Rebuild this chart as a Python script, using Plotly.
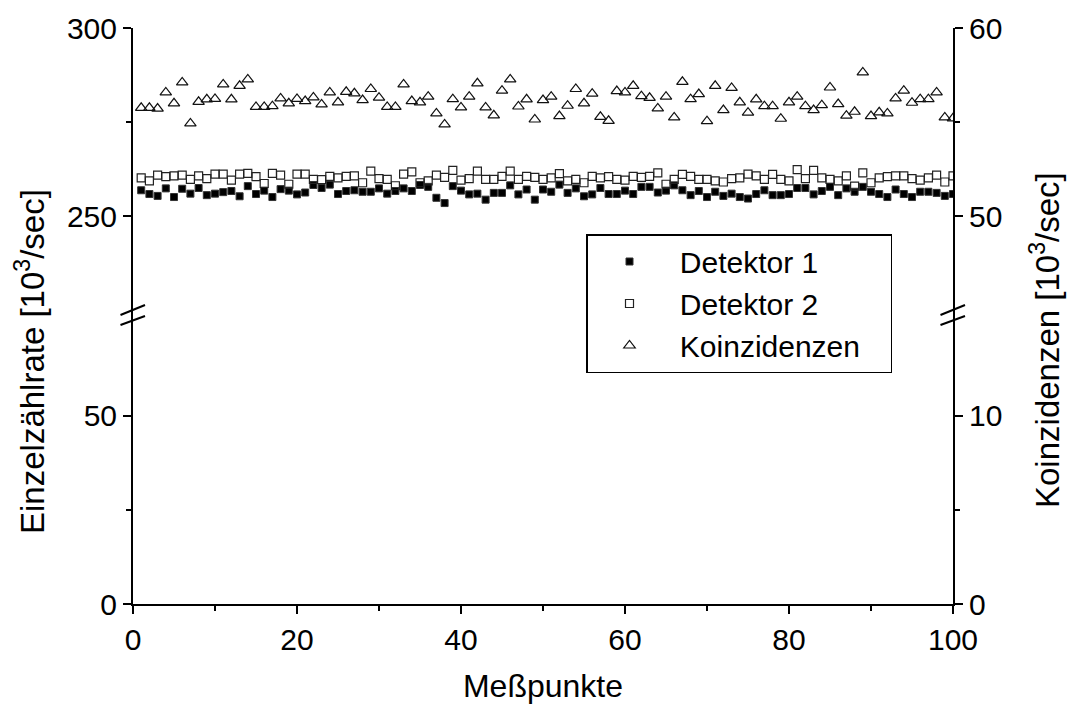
import plotly.graph_objects as go

x_points = list(range(1, 101))

detektor1 = [
    256.9, 255.9, 255.4, 257.4, 255.1, 257.3, 256.0, 257.5, 255.6, 256.0,
    256.4, 256.7, 255.3, 258.0, 255.9, 256.8, 255.1, 257.2, 256.8, 255.8,
    256.3, 258.3, 257.5, 258.4, 255.9, 256.7, 256.9, 256.5, 256.5, 257.4,
    256.0, 256.7, 257.4, 256.7, 258.3, 257.8, 254.9, 253.5, 258.0, 256.8,
    255.8, 256.0, 254.4, 256.2, 256.2, 258.2, 255.8, 257.1, 254.4, 257.1,
    256.5, 258.4, 256.2, 257.4, 255.3, 255.8, 257.5, 255.9, 255.9, 256.8,
    255.9, 257.8, 257.8, 256.3, 256.8, 258.2, 256.9, 255.6, 256.7, 255.1,
    256.5, 255.4, 256.0, 255.1, 254.7, 255.9, 256.9, 255.6, 255.6, 255.9,
    257.5, 257.5, 255.8, 256.7, 257.8, 255.6, 257.4, 256.5, 257.8, 256.5,
    255.9, 255.1, 257.1, 255.9, 255.1, 256.5, 256.5, 256.2, 255.4, 255.9,
]

detektor2 = [
    260.2, 259.4, 260.9, 260.5, 260.7, 260.9, 259.8, 260.7, 260.0, 261.2,
    261.2, 259.6, 261.2, 261.4, 260.5, 258.7, 261.4, 260.9, 258.5, 261.2,
    261.2, 259.8, 259.7, 260.6, 260.2, 260.6, 260.7, 258.9, 262.0, 260.0,
    259.8, 258.1, 261.2, 261.8, 258.9, 259.4, 260.9, 260.3, 262.2, 259.6,
    260.0, 262.0, 259.8, 259.8, 260.6, 262.0, 259.8, 260.6, 260.3, 259.8,
    260.2, 261.3, 259.4, 259.8, 258.9, 260.6, 260.2, 260.5, 259.8, 259.6,
    260.6, 260.3, 260.6, 261.5, 258.5, 259.8, 261.1, 260.6, 259.8, 259.8,
    259.4, 259.1, 260.0, 260.2, 261.2, 260.7, 259.8, 261.1, 259.8, 259.4,
    262.4, 260.0, 262.2, 260.2, 259.8, 259.4, 260.7, 258.0, 261.5, 258.9,
    260.2, 260.5, 260.7, 260.7, 260.0, 259.6, 260.2, 260.9, 259.1, 260.7,
]

koinzidenzen = [
    55.76, 55.76, 55.72, 56.58, 56.00, 57.11, 54.93, 56.08, 56.21, 56.23,
    57.00, 56.21, 56.93, 57.27, 55.81, 55.81, 55.85, 56.26, 56.00, 56.23,
    56.12, 56.31, 55.94, 56.58, 56.05, 56.61, 56.53, 56.17, 56.76, 56.30,
    55.81, 55.81, 57.00, 56.12, 56.05, 56.35, 55.46, 54.88, 56.22, 55.78,
    56.35, 57.06, 55.78, 55.36, 56.67, 57.27, 55.83, 56.21, 55.14, 56.17,
    56.35, 55.32, 55.87, 56.76, 56.00, 56.51, 55.28, 55.07, 56.65, 56.58,
    56.93, 56.38, 56.29, 55.73, 56.35, 55.25, 57.14, 56.22, 56.49, 55.05,
    56.93, 55.64, 56.82, 56.05, 55.50, 56.21, 55.85, 55.85, 55.18, 56.05,
    56.35, 55.85, 55.64, 55.90, 56.84, 55.96, 55.34, 55.55, 57.64, 55.32,
    55.52, 55.46, 56.26, 56.67, 56.03, 56.22, 56.22, 56.58, 55.25, 55.20,
]

series_names = ["Detektor 1", "Detektor 2", "Koinzidenzen"]
x_title = "Meßpunkte"
y_left_title = "Einzelzählrate [10<sup>3</sup>/sec]"
y_right_title = "Koinzidenzen [10<sup>3</sup>/sec]"

left_lower_ticks = [0, 50]
left_upper_ticks = [250, 300]
right_lower_ticks = [0, 10]
right_upper_ticks = [50, 60]

FONT = "Liberation Sans, Arial, sans-serif"
TICKFONT = dict(family=FONT, size=30, color="black")
NB = "\u00a0"

fig = go.Figure()

# empty traces so the lower axes exist
fig.add_trace(go.Scatter(x=[], y=[], yaxis="y", showlegend=False))
fig.add_trace(go.Scatter(x=[], y=[], yaxis="y2", showlegend=False))

legend_pad = NB * 3
fig.add_trace(go.Scatter(
    x=x_points, y=detektor1, mode="markers", name=NB + series_names[0], yaxis="y3",
    marker=dict(symbol="square", size=7, color="black", line=dict(color="#333", width=1)),
))
fig.add_trace(go.Scatter(
    x=x_points, y=detektor2, mode="markers", name=NB + series_names[1], yaxis="y3",
    marker=dict(symbol="square-open", size=8, color="#222", line=dict(width=1.2)),
))
fig.add_trace(go.Scatter(
    x=x_points, y=koinzidenzen, mode="markers", name=NB + series_names[2] + legend_pad,
    yaxis="y4",
    marker=dict(symbol="triangle-up-open", size=10, color="#111", line=dict(width=1.2)),
))

split = 0.5
common_y = dict(showline=True, linecolor="black", linewidth=2, ticks="outside",
                ticklen=8, tickwidth=2, tickcolor="black", showgrid=False,
                zeroline=False, tickfont=TICKFONT, anchor="x", automargin=False)

fig.update_layout(
    width=1069, height=704,
    margin=dict(l=133, r=116, t=28, b=100),
    paper_bgcolor="white", plot_bgcolor="white",
    font=dict(family=FONT, color="black"),
    xaxis=dict(domain=[0, 1], range=[0, 100], showline=True, linecolor="black",
               linewidth=2, ticks="outside", ticklen=8, tickwidth=2,
               tickcolor="black", tickvals=[0, 20, 40, 60, 80, 100],
               minor=dict(tickvals=[10, 30, 50, 70, 90], ticks="outside",
                          ticklen=5, tickwidth=1.5, tickcolor="black"),
               showgrid=False, zeroline=False, tickfont=TICKFONT, automargin=False,
               title=dict(text=x_title, font=dict(family=FONT, size=32), standoff=24)),
    yaxis=dict(domain=[0, split], range=[0, 76.5], tickvals=left_lower_ticks,
               minor=dict(tickvals=[25], ticks="outside", ticklen=5, tickwidth=1.5,
                          tickcolor="black"), **common_y),
    yaxis2=dict(overlaying="y", side="right", range=[0, 15.3], tickvals=right_lower_ticks,
                minor=dict(tickvals=[5], ticks="outside", ticklen=5, tickwidth=1.5,
                           tickcolor="black"), **common_y),
    yaxis3=dict(domain=[split, 1], range=[223.5, 300], tickvals=left_upper_ticks,
                minor=dict(tickvals=[275], ticks="outside", ticklen=5, tickwidth=1.5,
                           tickcolor="black"), **common_y),
    yaxis4=dict(overlaying="y3", side="right", range=[44.7, 60], tickvals=right_upper_ticks,
                minor=dict(tickvals=[55], ticks="outside", ticklen=5, tickwidth=1.5,
                           tickcolor="black"), **common_y),
    legend=dict(x=(586 - 133) / 820, y=(604 - 234) / 576, xanchor="left", yanchor="top",
                bordercolor="black", borderwidth=1.5, bgcolor="white",
                font=dict(family=FONT, size=30, color="black"),
                itemwidth=74, tracegroupgap=3),
)

# axis titles as annotations
fig.add_annotation(text=y_left_title, textangle=-90, xref="paper", yref="paper",
                   x=(30 - 133) / 820, y=(604 - 362) / 576, showarrow=False,
                   xanchor="center", yanchor="middle",
                   font=dict(family=FONT, size=33, color="black"))
fig.add_annotation(text=y_right_title, textangle=-90, xref="paper", yref="paper",
                   x=(1045 - 133) / 820, y=(604 - 340) / 576, showarrow=False,
                   xanchor="center", yanchor="middle",
                   font=dict(family=FONT, size=33, color="black"))

# axis break marks
W, H = 820.0, 576.0
for ax_x in (0.0, 1.0):
    for (x0, y0, x1, y1) in [(-12.5, 1, 12, 11), (-12.5, -9, 12, 0)]:
        fig.add_shape(type="line", xref="paper", yref="paper",
                      x0=ax_x + x0 / W, y0=split + y0 / H,
                      x1=ax_x + x1 / W, y1=split + y1 / H,
                      line=dict(color="black", width=2))

fig.write_html("out.html")
